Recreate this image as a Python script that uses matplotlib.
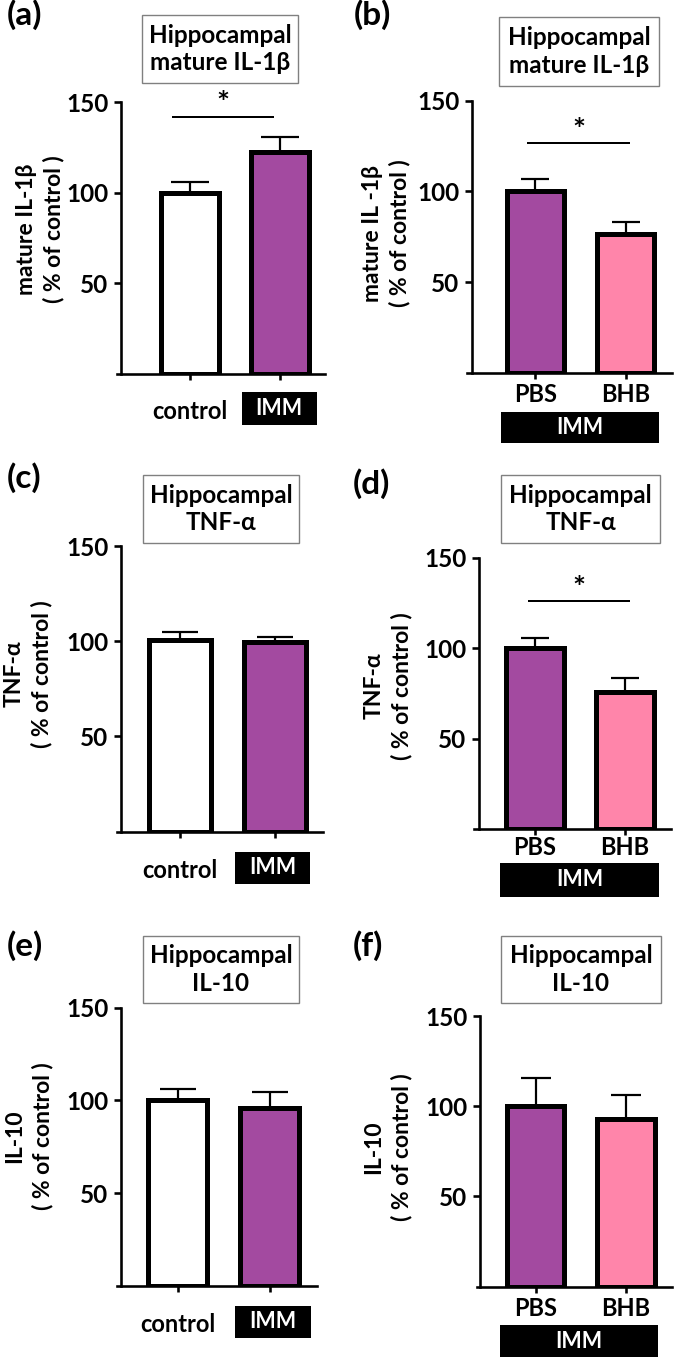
import matplotlib
matplotlib.use("Agg")
import matplotlib.pyplot as plt
from matplotlib.patches import Rectangle

plt.rcParams['font.family'] = ['Lato', 'DejaVu Sans']
plt.rcParams['font.weight'] = 'bold'

W, H, DPI = 675, 1359, 100

# ---------------- data ----------------
panel_labels = ["(a)", "(b)", "(c)", "(d)", "(e)", "(f)"]
titles = ["Hippocampal\nmature IL-1β", "Hippocampal\nmature IL-1β",
          "Hippocampal\nTNF-α", "Hippocampal\nTNF-α",
          "Hippocampal\nIL-10", "Hippocampal\nIL-10"]
ylabels = ["mature IL-1β\n( % of control )", "mature IL -1β\n( % of control )",
           "TNF-α\n( % of control )", "TNF-α\n( % of control )",
           "IL-10\n( % of control )", "IL-10\n( % of control )"]
cats_imm = ["control", "IMM"]
cats_bhb = ["PBS", "BHB"]
group_label = "IMM"

il1b_imm_mean = [100.0, 122.6]
il1b_imm_sem = [6.0, 8.0]
il1b_bhb_mean = [100.0, 76.5]
il1b_bhb_sem = [7.0, 6.7]
tnf_imm_mean = [100.5, 99.6]
tnf_imm_sem = [4.3, 2.8]
tnf_bhb_mean = [100.3, 75.6]
tnf_bhb_sem = [5.1, 7.7]
il10_imm_mean = [100.0, 95.8]
il10_imm_sem = [6.2, 8.6]
il10_bhb_mean = [100.0, 92.8]
il10_bhb_sem = [15.9, 13.5]

yticks = [50, 100, 150]
ymax = 150

# ---------------- style ----------------
PURPLE = "#A34AA0"
PINK = "#FF85AA"
colors_imm = ["white", PURPLE]
colors_bhb = [PURPLE, PINK]

means = [il1b_imm_mean, il1b_bhb_mean, tnf_imm_mean, tnf_bhb_mean, il10_imm_mean, il10_bhb_mean]
sems = [il1b_imm_sem, il1b_bhb_sem, tnf_imm_sem, tnf_bhb_sem, il10_imm_sem, il10_bhb_sem]
cats = [cats_imm, cats_bhb] * 3
cols = [colors_imm, colors_bhb] * 3
sig = [(-0.2, 0.94, 142), (-0.09, 1.05, 126.5), None, (-0.08, 1.06, 126.2), None, None]

# layout in pixels
layouts = [
    dict(xl=117, xr=325, yax=121, ytop=102, ybot=374, c=(189.5, 279.5), bw=63,
         title=(142, 15, 298, 83), lab=(25, 15), ylab=(40, 229), xlab_y=412,
         box=(241.7, 392.3, 316.7, 425), cap=14),
    dict(xl=466.7, xr=672, yax=471.7, ytop=100.7, ybot=372.7, c=(535.3, 625.5), bw=62.5,
         title=(499, 17, 659, 86), lab=(372, 15), ylab=(386, 233), xlab_y=395,
         box=(501, 412, 659, 443), cap=10),
    dict(xl=117, xr=323, yax=121, ytop=546, ybot=831.7, c=(179.5, 274.5), bw=67,
         title=(143, 475, 299, 543), lab=(24, 478), ylab=(28, 674), xlab_y=870,
         box=(235, 851.7, 310, 884), cap=13),
    dict(xl=474, xr=671, yax=479, ytop=557.7, ybot=829, c=(534.7, 624.7), bw=62.7,
         title=(501, 475, 660, 543), lab=(371, 484), ylab=(388, 686), xlab_y=847,
         box=(500, 863, 659, 897), cap=10),
    dict(xl=117, xr=317, yax=121, ytop=1007.7, ybot=1286, c=(177.5, 269.5), bw=64,
         title=(143, 936, 299, 1003), lab=(25, 946), ylab=(29, 1136), xlab_y=1325,
         box=(235, 1306, 310.7, 1338), cap=13),
    dict(xl=476.7, xr=672, yax=480, ytop=1016, ybot=1286.7, c=(535.5, 626), bw=62.5,
         title=(501, 936, 661, 1003), lab=(368, 946), ylab=(388, 1147), xlab_y=1308,
         box=(500, 1325, 658, 1357), cap=11),
]

EDGE_PX = 5.0
PT = 72.0 / DPI
FS_TITLE = 17.5
FS_TICK = 17.5
FS_XLAB = 17
FS_BOX = 15.5
FS_YLAB = 16.5
FS_PANEL = 24
FS_STAR = 22


def fx(x):
    return x / W


def fy(y):
    return 1 - y / H


fig = plt.figure(figsize=(W / DPI, H / DPI), dpi=DPI)

for i in range(6):
    L = layouts[i]
    ax = fig.add_axes([fx(L['xl']), fy(L['ybot']), fx(L['xr']) - fx(L['xl']),
                       fy(L['ytop']) - fy(L['ybot'])])
    ax.set_facecolor('none')
    c0, c1 = L['c']
    s = c1 - c0
    ax.set_xlim(-(c0 - L['xl']) / s, 1 + (L['xr'] - c1) / s)
    ax.set_ylim(0, ymax)
    x = list(range(len(cats[i])))
    bw = (L['bw'] - EDGE_PX) / s
    ax.errorbar(x, means[i], yerr=[[0] * len(x), sems[i]], fmt='none', ecolor='black',
                elinewidth=2.2 * PT, capsize=L['cap'], capthick=2.2 * PT, zorder=1)
    ax.bar(x, means[i], width=bw, color=cols[i], edgecolor='black',
           linewidth=EDGE_PX * PT, zorder=2)
    for sp in ['top', 'right']:
        ax.spines[sp].set_visible(False)
    ax.spines['left'].set_position(('outward', -(L['yax'] - L['xl']) * PT))
    ax.spines['left'].set_bounds(0, ymax)
    for sp in ['left', 'bottom']:
        ax.spines[sp].set_linewidth(2.6 * PT)
    ax.set_yticks(yticks)
    ax.set_yticklabels([str(t) for t in yticks])
    ax.tick_params(axis='y', length=7 * PT, width=2.6 * PT, labelsize=FS_TICK, pad=4)
    ax.set_xticks(x)
    ax.set_xticklabels([])
    ax.tick_params(axis='x', length=6 * PT, width=2.6 * PT)

    # x labels
    yfrac = (L['ybot'] - L['xlab_y']) / (L['ybot'] - L['ytop'])
    trans = ax.get_xaxis_transform()
    bx0, by0, bx1, by1 = L['box']
    fig.patches.append(Rectangle((fx(bx0), fy(by1)), fx(bx1) - fx(bx0), fy(by0) - fy(by1),
                                 transform=fig.transFigure, facecolor='black',
                                 edgecolor='none', zorder=3))
    if i % 2 == 0:
        ax.text(x[0], yfrac, cats[i][0], transform=trans, ha='center', va='center',
                fontsize=FS_XLAB, fontweight='bold', clip_on=False)
        fig.text(fx((bx0 + bx1) / 2), fy((by0 + by1) / 2), cats[i][1], color='white',
                 ha='center', va='center', fontsize=FS_BOX, fontweight='bold', zorder=4)
    else:
        for k in x:
            ax.text(k, yfrac, cats[i][k], transform=trans, ha='center', va='center',
                    fontsize=FS_XLAB, fontweight='bold', clip_on=False)
        fig.text(fx((bx0 + bx1) / 2), fy((by0 + by1) / 2), group_label, color='white',
                 ha='center', va='center', fontsize=FS_BOX, fontweight='bold', zorder=4)

    # significance
    if sig[i] is not None:
        sx0, sx1, sy = sig[i]
        ax.plot([sx0, sx1], [sy, sy], color='black', lw=2.0 * PT, clip_on=False,
                solid_capstyle='butt')
        ax.text((sx0 + sx1) / 2, sy - 1, "*", ha='center', va='bottom', fontsize=FS_STAR,
                fontweight='bold', clip_on=False)

    # title box
    tx0, ty0, tx1, ty1 = L['title']
    fig.patches.append(Rectangle((fx(tx0), fy(ty1)), fx(tx1) - fx(tx0), fy(ty0) - fy(ty1),
                                 transform=fig.transFigure, facecolor='white',
                                 edgecolor='#808080', linewidth=1.0, zorder=3))
    fig.text(fx((tx0 + tx1) / 2), fy((ty0 + ty1) / 2), titles[i], ha='center', va='center',
             fontsize=FS_TITLE, fontweight='bold', linespacing=1.25, zorder=4)

    # panel label
    fig.text(fx(L['lab'][0]), fy(L['lab'][1]), panel_labels[i], ha='center', va='center',
             fontsize=FS_PANEL, fontweight='bold')

    # y label
    fig.text(fx(L['ylab'][0]), fy(L['ylab'][1]), ylabels[i], ha='center', va='center',
             rotation=90, fontsize=FS_YLAB, fontweight='bold', linespacing=1.35,
             multialignment='center')

fig.savefig("out.png", dpi=DPI)
